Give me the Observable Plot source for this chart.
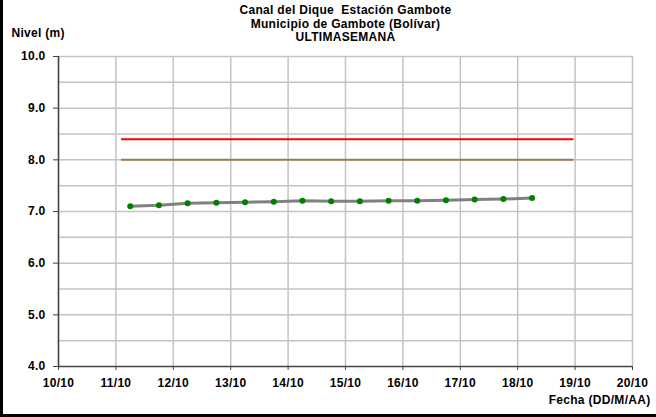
<!DOCTYPE html>
<html><head><meta charset="utf-8">
<script src="https://cdn.jsdelivr.net/npm/d3@7"></script>
<script src="https://cdn.jsdelivr.net/npm/@observablehq/plot@0.6"></script>
<style>
body{margin:0;background:#fff;}
#wrap{position:relative;width:656px;height:417px;}
#wrap svg{position:absolute;left:0;top:0;}
#border{position:absolute;left:0;top:0;width:656px;height:417px;box-sizing:border-box;border-left:3px solid #000;border-bottom:3px solid #000;pointer-events:none;}
</style></head><body>
<div id="wrap"><div id="border"></div></div>
<script>
// Data
const fechas = [
  "2012-10-11T06:00","2012-10-11T18:00","2012-10-12T06:00","2012-10-12T18:00",
  "2012-10-13T06:00","2012-10-13T18:00","2012-10-14T06:00","2012-10-14T18:00",
  "2012-10-15T06:00","2012-10-15T18:00","2012-10-16T06:00","2012-10-16T18:00",
  "2012-10-17T06:00","2012-10-17T18:00","2012-10-18T06:00"
];
const niveles = [7.10, 7.12, 7.16, 7.17, 7.18, 7.19, 7.21, 7.20, 7.20, 7.21, 7.21, 7.22, 7.23, 7.24, 7.26];
const umbralRojo = 8.4;
const umbralMarron = 8.0;
const umbralInicio = "2012-10-11T02:30";
const umbralFin = "2012-10-18T23:00";
const xInicio = "2012-10-10T00:00";
const xFin = "2012-10-20T00:00";
const yInicio = 4.0, yFin = 10.0;
const titulo = ["Canal del Dique  Estación Gambote", "Municipio de Gambote (Bolívar)", "ULTIMASEMANA"];
const etiquetaY = "Nivel (m)";
const etiquetaX = "Fecha (DD/M/AA)";

const parse = s => new Date(s + "Z");
const datos = fechas.map((f, i) => ({fecha: parse(f), nivel: niveles[i]}));
const rojo = [{fecha: parse(umbralInicio), nivel: umbralRojo}, {fecha: parse(umbralFin), nivel: umbralRojo}];
const marron = [{fecha: parse(umbralInicio), nivel: umbralMarron}, {fecha: parse(umbralFin), nivel: umbralMarron}];
const x0 = parse(xInicio), x1 = parse(xFin);
const dias = d3.utcDay.range(x0, d3.utcDay.offset(x1, 1));
const yTicks = d3.range(yInicio, yFin + 0.01, 1);
const yGrid = d3.range(yInicio + 0.5, yFin + 0.01, 0.5);
const font = "'Liberation Sans', Arial, sans-serif";
const t = {fontSize: 12, fontWeight: "bold", lineAnchor: "middle"};

const chart = Plot.plot({
  width: 656, height: 417,
  marginLeft: 58, marginRight: 24, marginTop: 56, marginBottom: 51,
  style: {fontFamily: font, fontSize: "12px", fontWeight: "bold", color: "#000", background: "transparent", letterSpacing: "0.3px"},
  x: {type: "utc", domain: [x0, x1]},
  y: {domain: [yInicio, yFin]},
  marks: [
    Plot.gridY(yGrid, {stroke: "#c4c4c4", strokeOpacity: 1, strokeWidth: 1.5}),
    Plot.gridX(dias, {stroke: "#c4c4c4", strokeOpacity: 1, strokeWidth: 1.5}),
    Plot.axisY({ticks: yTicks, tickFormat: d => d.toFixed(1), tickSize: 5, tickPadding: 8, label: null, stroke: "#444"}),
    Plot.axisX({ticks: dias, tickFormat: d3.utcFormat("%d/%m"), tickSize: 4, tickPadding: 8, label: null, stroke: "#444"}),
    Plot.ruleY([yInicio], {stroke: "#444", strokeWidth: 1.5}),
    Plot.ruleX([x0], {stroke: "#444", strokeWidth: 1.5}),
    Plot.line(rojo, {x: "fecha", y: "nivel", stroke: "#ff0000", strokeWidth: 2}),
    Plot.line(marron, {x: "fecha", y: "nivel", stroke: "#a0784c", strokeWidth: 2}),
    Plot.line(datos, {x: "fecha", y: "nivel", stroke: "#808080", strokeWidth: 3}),
    Plot.dot(datos, {x: "fecha", y: "nivel", fill: "#008000", r: 3}),
    Plot.text([titulo[0]], {...t, text: d => d, frameAnchor: "top", dy: -46}),
    Plot.text([titulo[1]], {...t, text: d => d, frameAnchor: "top", dy: -32.5}),
    Plot.text([titulo[2]], {...t, text: d => d, frameAnchor: "top", dy: -19}),
    Plot.text([etiquetaY], {...t, text: d => d, frameAnchor: "top-left", textAnchor: "start", dx: -47, dy: -23}),
    Plot.text([etiquetaX], {...t, text: d => d, frameAnchor: "bottom-right", textAnchor: "end", dx: 18, dy: 34})
  ]
});
document.getElementById("wrap").prepend(chart);
</script>
</body></html>
